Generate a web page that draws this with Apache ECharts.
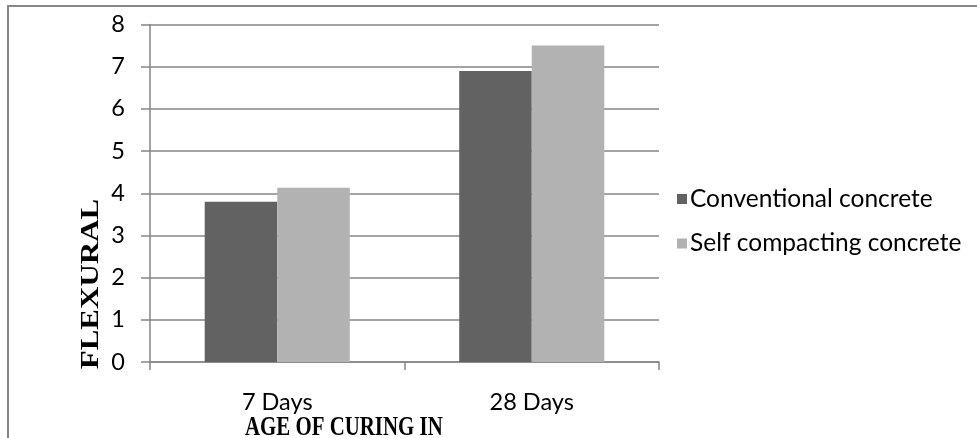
<!DOCTYPE html>
<html>
<head>
<meta charset="utf-8">
<script src="https://cdn.jsdelivr.net/npm/echarts@6/dist/echarts.min.js"></script>
<style>html,body{margin:0;padding:0;background:#fff}#c{width:977px;height:438px}</style>
</head>
<body>
<div id="c"></div>
<script>
const categories = ['7 Days', '28 Days'];
const conventional = [3.8, 6.9];
const selfCompacting = [4.13, 7.5];
const seriesNames = ['Conventional concrete', 'Self compacting concrete'];
const yTitle = 'FLEXURAL';
const xTitle = 'AGE OF CURING IN';

const chart = echarts.init(document.getElementById('c'));
const labelFont = 'Lato, "Liberation Sans", sans-serif';
chart.setOption({
  animation: false,
  backgroundColor: '#fff',
  grid: { left: 150, right: 318, top: 24.5, bottom: 76, containLabel: false },
  legend: {
    orient: 'vertical', left: 672, top: 181.5,
    itemWidth: 10, itemHeight: 10, itemGap: 19.5,
    icon: 'rect',
    textStyle: { fontFamily: labelFont, fontSize: 24.5, color: '#000', padding: [0, 0, 0, -2] },
    data: seriesNames
  },
  xAxis: {
    type: 'category', data: categories,
    axisLine: { lineStyle: { color: '#868686', width: 1.5 } },
    axisTick: { show: true, length: 8, lineStyle: { color: '#868686', width: 1.5 } },
    axisLabel: { fontFamily: labelFont, fontSize: 23.5, color: '#000', margin: 28 }
  },
  yAxis: {
    type: 'value', min: 0, max: 8, interval: 1,
    axisLine: { show: true, lineStyle: { color: '#868686', width: 1.5 } },
    axisTick: { show: true, length: 9, lineStyle: { color: '#868686', width: 1.5 } },
    splitLine: { lineStyle: { color: '#868686', width: 1.5 } },
    axisLabel: { fontFamily: labelFont, fontSize: 23.5, color: '#000', margin: 25 }
  },
  series: [
    { name: seriesNames[0], type: 'bar', data: conventional, barGap: '0%', barCategoryGap: '43%', itemStyle: { color: '#626262' } },
    { name: seriesNames[1], type: 'bar', data: selfCompacting, barGap: '0%', barCategoryGap: '43%', itemStyle: { color: '#b2b2b2' } }
  ],
  graphic: [
    { type: 'rect', shape: { x: 8, y: 6, width: 1200, height: 1200 }, style: { fill: 'none', stroke: '#888', lineWidth: 2 }, silent: true, z: 100 },
    { type: 'text', x: 91.5, y: 284, rotation: Math.PI / 2, scaleY: 0.8,
      style: { text: yTitle, x: 0, y: 0, font: "bold 31px 'Liberation Serif', serif", fill: '#000', align: 'center', verticalAlign: 'middle' } },
    { type: 'text', x: 245, y: 428, scaleX: 0.773,
      style: { text: xTitle, x: 0, y: 0, font: "bold 27px 'Liberation Serif', serif", fill: '#000', align: 'left', verticalAlign: 'middle' } }
  ]
});
</script>
</body>
</html>
